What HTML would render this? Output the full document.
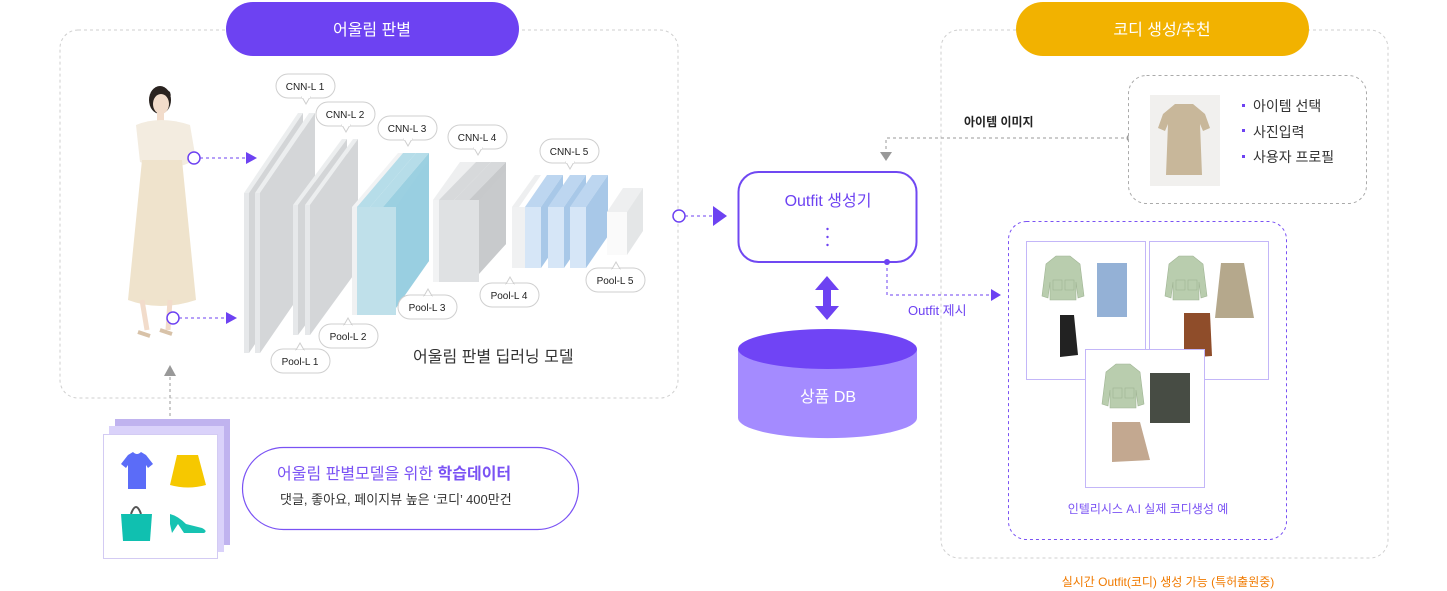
<!DOCTYPE html>
<html><head><meta charset="utf-8"><style>
html,body{margin:0;padding:0;background:#fff;}
svg{display:block;font-family:"Liberation Sans","Noto Sans CJK KR",sans-serif;}
</style></head><body>
<svg width="1447" height="591" viewBox="0 0 1447 591" xmlns="http://www.w3.org/2000/svg">
<defs>
<g id="bub"><rect x="0" y="0" width="59" height="24" rx="12" fill="#fff" stroke="#cfcfcf"/></g>
<g id="jacket"><path d="M0,8 L10,0 L24,0 L34,8 L38,40 L32,42 L30,26 L30,44 L4,44 L4,26 L2,42 L-4,40 Z" fill="#b9cdae" stroke="#9fb493" stroke-width="0.6"/><rect x="7" y="24" width="9" height="10" fill="none" stroke="#9fb493" stroke-width="0.6"/><rect x="19" y="24" width="9" height="10" fill="none" stroke="#9fb493" stroke-width="0.6"/></g>
</defs>

<!-- left dashed box -->
<rect x="60" y="30" width="618" height="368" rx="18" fill="none" stroke="#cfcfcf" stroke-dasharray="3,3"/>
<!-- right dashed box -->
<rect x="941" y="30" width="447" height="528" rx="18" fill="none" stroke="#cfcfcf" stroke-dasharray="3,3"/>

<!-- pills -->
<rect x="226" y="2" width="293" height="54" rx="27" fill="#6d42f2"/>
<text x="372" y="35" font-size="16" fill="#fff" text-anchor="middle">어울림 판별</text>
<rect x="1016" y="2" width="293" height="54" rx="27" fill="#f2b200"/>
<text x="1162" y="35" font-size="16" fill="#fff" text-anchor="middle">코디 생성/추천</text>

<!-- person -->
<g>
<ellipse cx="160" cy="100" rx="11" ry="14" fill="#2a2320"/>
<ellipse cx="161" cy="104" rx="8" ry="10" fill="#f2dccb"/>
<path d="M150,96 Q160,82 171,96 L170,92 Q160,84 151,92Z" fill="#2a2320"/>
<rect x="157" y="112" width="7" height="10" fill="#f2dccb"/>
<path d="M136,125 Q160,115 190,125 L196,160 L184,165 Q160,170 140,162 Z" fill="#f3ece0"/>
<path d="M142,160 L182,160 L196,300 Q160,312 128,300 Z" fill="#efe3cc"/>
<path d="M142,300 L147,330 M170,300 L168,330" stroke="#f2dccb" stroke-width="5"/>
<path d="M138,332 l12,4 M160,330 l12,4" stroke="#d8c2a8" stroke-width="4"/>
</g>
<!-- arrows from person -->
<line x1="200" y1="158" x2="246" y2="158" stroke="#6d42f2" stroke-dasharray="3,3"/>
<polygon points="246,152 257,158 246,164" fill="#6d42f2"/>
<circle cx="194" cy="158" r="6" fill="#fff" stroke="#6d42f2" stroke-width="1.5"/>
<line x1="179" y1="318" x2="226" y2="318" stroke="#6d42f2" stroke-dasharray="3,3"/>
<polygon points="226,312 237,318 226,324" fill="#6d42f2"/>
<circle cx="173" cy="318" r="6" fill="#fff" stroke="#6d42f2" stroke-width="1.5"/>

<!-- CNN slabs -->
<!-- L1 -->
<polygon points="244,193 298,113 303,113 249,193" fill="#eceeef"/><polygon points="249,193 303,113 303,273 249,353" fill="#d3d5d7"/><rect x="244" y="193" width="5" height="160" fill="#e6e8ea"/>
<polygon points="255,193 309,113 315,113 260,193" fill="#eceeef"/><polygon points="260,193 315,113 315,273 260,353" fill="#d4d6d8"/><rect x="255" y="193" width="5" height="160" fill="#e6e8ea"/>
<!-- L2 -->
<polygon points="293,205 342,139 347,139 298,205" fill="#eceeef"/><polygon points="298,205 347,139 347,269 298,335" fill="#d3d5d7"/><rect x="293" y="205" width="5" height="130" fill="#e6e8ea"/>
<polygon points="305,205 353,139 358,139 310,205" fill="#eceeef"/><polygon points="310,205 358,139 358,269 310,335" fill="#d4d6d8"/><rect x="305" y="205" width="5" height="130" fill="#e6e8ea"/>
<!-- L3 -->
<polygon points="352,207 398,153 403,153 357,207" fill="#f2f3f4"/><rect x="352" y="207" width="5" height="108" fill="#f0f1f2"/>
<polygon points="357,207 403,153 416,153 370,207" fill="#b6dde9"/><rect x="357" y="207" width="13" height="108" fill="#bfe0ea"/>
<polygon points="370,207 416,153 429,153 383,207" fill="#b6dde9"/><rect x="370" y="207" width="13" height="108" fill="#bfe0ea"/>
<polygon points="383,207 429,153 429,261 383,315" fill="#9bd0e1"/><rect x="383" y="207" width="13" height="108" fill="#bfe0ea"/><polygon points="396,207 429,160 429,261 396,308" fill="#99cfe1"/>
<!-- L4 -->
<polygon points="433,200 460,162 476,162 449,200" fill="#eeeff0"/><rect x="433" y="200" width="6" height="82" fill="#f2f3f4"/>
<polygon points="439,200 476,162 491,162 454,200" fill="#d7d9db"/><rect x="439" y="200" width="15" height="82" fill="#dfe1e3"/>
<polygon points="454,200 491,162 506,162 469,200" fill="#d7d9db"/><rect x="454" y="200" width="15" height="82" fill="#dfe1e3"/>
<polygon points="469,200 506,162 506,244 469,282" fill="#c7c9cb"/><rect x="469" y="200" width="10" height="82" fill="#dfe1e3"/><polygon points="479,200 506,170 506,244 479,274" fill="#c8cacc"/>
<!-- L5 -->
<polygon points="512,207 535,175 541,175 519,207" fill="#eeeff0"/><rect x="512" y="207" width="13" height="61" fill="#f0f1f2"/>
<polygon points="525,207 547,175 563,175 541,207" fill="#bdd6f0"/><rect x="525" y="207" width="16" height="61" fill="#d6e6f7"/><polygon points="541,207 563,175 563,236 541,268" fill="#a8c8e8"/>
<polygon points="548,207 570,175 586,175 564,207" fill="#bdd6f0"/><rect x="548" y="207" width="16" height="61" fill="#d6e6f7"/><polygon points="564,207 586,175 586,236 564,268" fill="#a8c8e8"/>
<polygon points="570,207 592,175 608,175 586,207" fill="#bdd6f0"/><rect x="570" y="207" width="16" height="61" fill="#d6e6f7"/><polygon points="586,207 608,175 608,236 586,268" fill="#a8c8e8"/>
<!-- L6 -->
<polygon points="607,212 623,188 643,188 627,212" fill="#eeeff0"/><rect x="607" y="212" width="20" height="43" fill="#fafafa"/><polygon points="627,212 643,188 643,231 627,255" fill="#e4e6e7"/>

<!-- bubbles -->
<g font-size="10" fill="#222" text-anchor="middle">
<use href="#bub" x="276" y="74"/><polygon points="302,97 306,104 310,97" fill="#fff" stroke="#cfcfcf"/><rect x="302" y="95" width="8" height="3" fill="#fff"/><text x="305" y="90">CNN-L 1</text>
<use href="#bub" x="316" y="102"/><polygon points="342,125 346,132 350,125" fill="#fff" stroke="#cfcfcf"/><rect x="342" y="123" width="8" height="3" fill="#fff"/><text x="345" y="118">CNN-L 2</text>
<use href="#bub" x="378" y="116"/><polygon points="404,139 408,146 412,139" fill="#fff" stroke="#cfcfcf"/><rect x="404" y="137" width="8" height="3" fill="#fff"/><text x="407" y="132">CNN-L 3</text>
<use href="#bub" x="448" y="125"/><polygon points="474,148 478,155 482,148" fill="#fff" stroke="#cfcfcf"/><rect x="474" y="146" width="8" height="3" fill="#fff"/><text x="477" y="141">CNN-L 4</text>
<use href="#bub" x="540" y="139"/><polygon points="566,162 570,169 574,162" fill="#fff" stroke="#cfcfcf"/><rect x="566" y="160" width="8" height="3" fill="#fff"/><text x="569" y="155">CNN-L 5</text>
<use href="#bub" x="271" y="349"/><polygon points="296,350 300,343 304,350" fill="#fff" stroke="#cfcfcf"/><rect x="296" y="350" width="8" height="3" fill="#fff"/><text x="300" y="365">Pool-L 1</text>
<use href="#bub" x="319" y="324"/><polygon points="344,325 348,318 352,325" fill="#fff" stroke="#cfcfcf"/><rect x="344" y="325" width="8" height="3" fill="#fff"/><text x="348" y="340">Pool-L 2</text>
<use href="#bub" x="398" y="295"/><polygon points="424,296 428,289 432,296" fill="#fff" stroke="#cfcfcf"/><rect x="424" y="296" width="8" height="3" fill="#fff"/><text x="427" y="311">Pool-L 3</text>
<use href="#bub" x="480" y="283"/><polygon points="506,284 510,277 514,284" fill="#fff" stroke="#cfcfcf"/><rect x="506" y="284" width="8" height="3" fill="#fff"/><text x="509" y="299">Pool-L 4</text>
<use href="#bub" x="586" y="268"/><polygon points="612,269 616,262 620,269" fill="#fff" stroke="#cfcfcf"/><rect x="612" y="269" width="8" height="3" fill="#fff"/><text x="615" y="284">Pool-L 5</text>
</g>
<text x="413" y="362" font-size="16" fill="#333">어울림 판별 딥러닝 모델</text>

<!-- training data -->
<line x1="170" y1="416" x2="170" y2="376" stroke="#999" stroke-dasharray="3,3"/>
<polygon points="164,376 170,365 176,376" fill="#999"/>
<rect x="115" y="419" width="115" height="126" fill="#c0b3ef"/>
<rect x="109" y="426" width="115" height="126" fill="#dad2fa"/>
<rect x="103.5" y="434.5" width="114" height="124" fill="#fff" stroke="#d3cbf3"/>
<path d="M128,455 L133,452 Q137,456 141,452 L146,455 L153,464 L148,468 L146,465 L146,489 L128,489 L128,465 L126,468 L121,464 Z" fill="#5b6cf8"/>
<path d="M177,455 L198,455 L206,485 Q188,490 170,485 Z" fill="#f6c800"/>
<path d="M131,514 Q136,500 141,514" stroke="#555" stroke-width="2" fill="none"/>
<path d="M121,514 L152,514 L150,541 L123,541 Z" fill="#10c0b0"/>
<path d="M170,514 Q178,516 186,524 L202,528 Q208,531 204,533 L184,533 L178,524 L172,533 L170,524 Z" fill="#17c3b2"/>
<rect x="242.5" y="447.5" width="336" height="82" rx="41" fill="#fff" stroke="#7a52f4" stroke-width="1.2"/>
<text x="277" y="479" font-size="16" fill="#7a52f4">어울림 판별모델을 위한 <tspan font-weight="bold">학습데이터</tspan></text>
<text x="280" y="504" font-size="13" fill="#333">댓글, 좋아요, 페이지뷰 높은 ‘코디’ 400만건</text>

<!-- to outfit generator -->
<line x1="685" y1="216" x2="714" y2="216" stroke="#6d42f2" stroke-dasharray="3,3"/>
<polygon points="713,206 727,216 713,226" fill="#6d42f2"/>
<circle cx="679" cy="216" r="6" fill="#fff" stroke="#6d42f2" stroke-width="1.5"/>

<rect x="738.5" y="172" width="178" height="90" rx="20" fill="#fff" stroke="#7048f2" stroke-width="2"/>
<text x="828" y="206" font-size="16" fill="#6d42f2" text-anchor="middle">Outfit 생성기</text>
<circle cx="827.5" cy="229" r="1.2" fill="#6d42f2"/><circle cx="827.5" cy="237" r="1.2" fill="#6d42f2"/><circle cx="827.5" cy="245" r="1.2" fill="#6d42f2"/>
<polygon points="827,276 839,290 831,290 831,306 839,306 827,320 815,306 823,306 823,290 815,290" fill="#6d42f2"/>
<path d="M738,349 L738,418 A89,20 0 0 0 917,418 L917,349 Z" fill="#a48bff"/>
<ellipse cx="827.5" cy="349" rx="89.5" ry="20" fill="#7044f5"/>
<text x="828" y="402" font-size="16" fill="#fff" text-anchor="middle">상품 DB</text>

<circle cx="887" cy="262" r="3" fill="#6d42f2"/>
<path d="M887,262 L887,295 L990,295" stroke="#6d42f2" fill="none" stroke-dasharray="3,3"/>
<polygon points="991,289 1001,295 991,301" fill="#6d42f2"/>
<text x="908" y="315" font-size="13" fill="#6d42f2">Outfit 제시</text>

<path d="M1130,138 L886,138 L886,152" stroke="#999" fill="none" stroke-dasharray="3,3"/>
<polygon points="880,152 886,161 892,152" fill="#999"/>
<circle cx="1130" cy="138" r="3.5" fill="#999"/>
<text x="964" y="126" font-size="12" font-weight="bold" fill="#222">아이템 이미지</text>

<rect x="1128.5" y="75.5" width="238" height="128" rx="18" fill="#fff" stroke="#aaa" stroke-dasharray="3,3"/>
<rect x="1150" y="95" width="70" height="91" fill="#f1f0ee"/>
<path d="M1175,104 L1193,104 L1205,114 L1210,128 L1203,131 L1200,124 L1202,175 L1166,175 L1168,124 L1165,131 L1158,128 L1163,114 Z" fill="#c8b79a"/>
<g font-size="14" fill="#333"><rect x="1242" y="104" width="3" height="3" fill="#6d42f2"/><text x="1253" y="111">아이템 선택</text>
<rect x="1242" y="129" width="3" height="3" fill="#6d42f2"/><text x="1253" y="137">사진입력</text>
<rect x="1242" y="155" width="3" height="3" fill="#6d42f2"/><text x="1253" y="162">사용자 프로필</text></g>

<rect x="1008.5" y="221.5" width="278" height="318" rx="18" fill="#fff" stroke="#7a52f4" stroke-dasharray="3,3"/>
<rect x="1026.5" y="241.5" width="119" height="138" fill="#fff" stroke="#c3b6f8"/>
<use href="#jacket" x="1046" y="256"/><rect x="1097" y="263" width="30" height="54" fill="#94b1d6"/>
<path d="M1060,315 L1074,315 L1078,355 L1060,357 Z" fill="#222"/>
<rect x="1149.5" y="241.5" width="119" height="138" fill="#fff" stroke="#c3b6f8"/>
<use href="#jacket" x="1169" y="256"/><path d="M1221,263 L1244,263 L1254,318 L1215,318 Z" fill="#b5a88c"/>
<path d="M1184,313 L1210,313 L1212,356 L1184,358 Z" fill="#8f4d2a"/>
<rect x="1085.5" y="349.5" width="119" height="138" fill="#fff" stroke="#c3b6f8"/>
<use href="#jacket" x="1106" y="364"/><rect x="1150" y="373" width="40" height="50" fill="#474c44"/>
<path d="M1112,422 L1140,422 L1150,460 L1112,462 Z" fill="#c3a890"/>
<text x="1148" y="513" font-size="12" fill="#7a52f4" text-anchor="middle">인텔리시스 A.I 실제 코디생성 예</text>
<text x="1168" y="586" font-size="12" fill="#f07a00" text-anchor="middle">실시간 Outfit(코디) 생성 가능 (특허출원중)</text>
</svg>
</body></html>
